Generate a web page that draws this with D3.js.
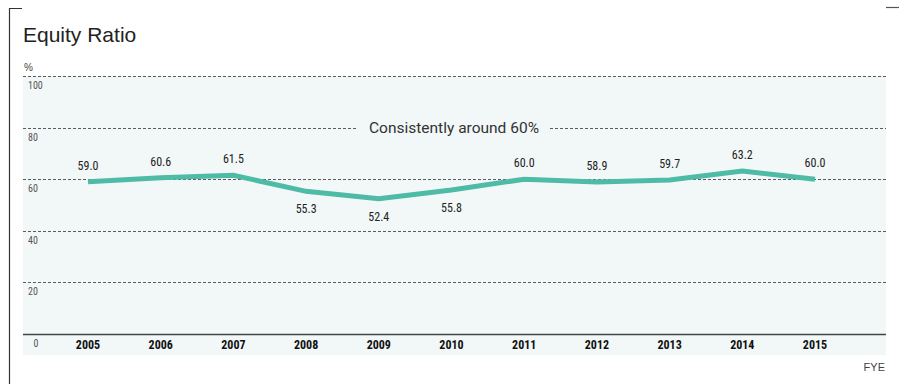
<!DOCTYPE html>
<meta charset="utf-8"/>
<html>
<head>
<script src="https://d3js.org/d3.v7.min.js"></script>
<style>
  * { padding: 0; margin: 0; }
  body { background: #fff; }
  .narrow { font-family: "Liberation Sans Narrow", "Arial Narrow", "Roboto Condensed", Roboto, sans-serif; }
</style>
</head>
<body>
<div id="chart"></div>
<script>
// data
const years = ["2005", "2006", "2007", "2008", "2009", "2010", "2011", "2012", "2013", "2014", "2015"];
const ratio = [59.0, 60.6, 61.5, 55.3, 52.4, 55.8, 60.0, 58.9, 59.7, 63.2, 60.0];
const labelBelow = [false, false, false, true, true, true, false, false, false, false, false];
const yTicks = [0, 20, 40, 60, 80, 100];

const W = 899, H = 384;
const plot = {left: 23, right: 886, top: 76, bottom: 334, bgBottom: 355};

const svg = d3.select("#chart").append("svg")
    .attr("width", W).attr("height", H);

// frame corners
svg.append("path").attr("d", "M9.5,384 V8.5 H22").attr("fill", "none")
    .attr("stroke", "#333").attr("stroke-width", 1.2);
svg.append("line").attr("x1", 886).attr("x2", 899).attr("y1", 7.5).attr("y2", 7.5)
    .attr("stroke", "#555").attr("stroke-width", 1.2);

svg.append("text").attr("x", 23).attr("y", 42)
    .style("font-family", "'Liberation Sans', Arial, sans-serif")
    .style("font-size", "21px").attr("fill", "#222")
    .text("Equity Ratio");

svg.append("rect").attr("x", plot.left).attr("y", plot.top)
    .attr("width", plot.right - plot.left).attr("height", plot.bgBottom - plot.top)
    .attr("fill", "#f2f8f8");

const x = d3.scalePoint().domain(years).range([88, 815]);
const y = d3.scaleLinear().domain([0, 100]).range([plot.bottom, plot.top]);

// gridlines, 80 line leaves room for the note
const annX0 = 358, annX1 = 550;
yTicks.forEach(t => {
    const yy = Math.round(y(t)) + 0.5;
    if (t === 0) {
        svg.append("line").attr("x1", plot.left).attr("x2", plot.right)
            .attr("y1", yy).attr("y2", yy).attr("stroke", "#444").attr("stroke-width", 1.5);
    } else {
        const segs = t === 80 ? [[plot.left, annX0], [annX1, plot.right]] : [[plot.left, plot.right]];
        segs.forEach(seg => {
            svg.append("line").attr("x1", seg[0]).attr("x2", seg[1])
                .attr("y1", yy).attr("y2", yy).attr("stroke", "#333")
                .attr("stroke-width", 0.8).attr("stroke-dasharray", "3,2");
        });
    }
    svg.append("text").attr("class", "narrow")
        .attr("x", t === 0 ? 36 : 28).attr("y", y(t) + 13)
        .attr("text-anchor", t === 0 ? "middle" : "start")
        .style("font-size", "10px").attr("fill", "#555")
        .text(t);
});

svg.append("text").attr("x", 24).attr("y", 71)
    .style("font-family", "'Liberation Sans', Arial, sans-serif")
    .style("font-size", "10px").attr("fill", "#444").text("%");

svg.append("text").attr("x", (annX0 + annX1) / 2).attr("y", y(80) + 5)
    .attr("text-anchor", "middle")
    .style("font-family", "Roboto, 'Liberation Sans', sans-serif")
    .style("font-size", "15.5px").attr("fill", "#333")
    .text("Consistently around 60%");

// x labels
svg.selectAll(".xl").data(years).enter().append("text")
    .attr("class", "narrow")
    .attr("x", d => x(d)).attr("y", plot.bottom + 15)
    .attr("text-anchor", "middle")
    .style("font-size", "12px").style("font-weight", "bold").attr("fill", "#111")
    .text(d => d);

svg.append("text").attr("x", 885).attr("y", 371).attr("text-anchor", "end")
    .style("font-family", "'Liberation Sans', Arial, sans-serif")
    .style("font-size", "11px").attr("fill", "#444").text("FYE");

// line
const line = d3.line().x((d, i) => x(years[i])).y(d => y(d));
svg.append("path").datum(ratio).attr("d", line)
    .attr("fill", "none").attr("stroke", "#4dbba6").attr("stroke-width", 5);

svg.selectAll(".vl").data(ratio).enter().append("text")
    .attr("class", "narrow")
    .attr("x", (d, i) => x(years[i]))
    .attr("y", (d, i) => labelBelow[i] ? y(d) + 22 : y(d) - 12)
    .attr("text-anchor", "middle")
    .style("font-size", "12px").attr("fill", "#222")
    .text(d => d.toFixed(1));
</script>
</body>
</html>
